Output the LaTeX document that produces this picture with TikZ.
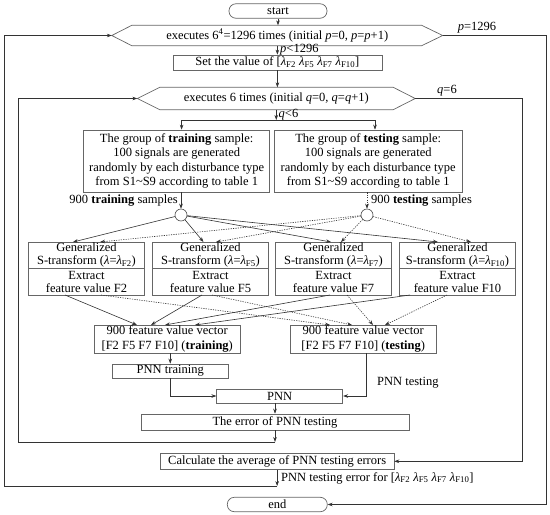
\documentclass[tikz,border=0pt]{standalone}
\usepackage{fontspec}
\setmainfont{Liberation Serif}
\usetikzlibrary{arrows.meta}
\newcommand\lamF[1]{\textit{λ}\textsubscript{#1}}
\begin{document}
\begin{tikzpicture}[x=1pt,y=-1pt,
  font=\fontsize{12.5}{14.5}\selectfont,
  box/.style={draw=black!60, line width=0.7pt, inner sep=0pt, align=center},
  hexline/.style={draw=black!60, line width=0.7pt},
  gst/.style={box, minimum width=116pt, minimum height=26.5pt, font=\fontsize{12.5}{13}\selectfont},
  conn/.style={draw=black!80, line width=0.6pt},
  arr/.style={conn, -{Stealth[length=5pt,width=3.6pt]}},
  dot/.style={dash pattern=on 1.2pt off 1.2pt},
  lab/.style={inner sep=0pt}]
\useasboundingbox (0,0) rectangle (550,515);

% top part
\node[box, rounded corners=7pt, minimum width=98pt, minimum height=14.5pt] (start) at (278,11) {start};
\node[inner sep=0pt, minimum width=330.5pt, minimum height=20pt] (h1) at (277.25,35.5) {executes 6\textsuperscript{4}=1296 times (initial \textit{p}=0, \textit{p}=\textit{p}+1)};
\draw[hexline] (h1.west) -- ([xshift=20pt]h1.north west) -- ([xshift=-21pt]h1.north east) -- (h1.east) -- ([xshift=-21pt]h1.south east) -- ([xshift=20pt]h1.south west) -- cycle;
\draw[arr] (start.south |- start.south) -- (start.south |- h1.north);

\node[box, minimum width=209pt, minimum height=15pt] (set) at (277.4,62.5) {Set the value of [\lamF{F2} \lamF{F5} \lamF{F7} \lamF{F10}]};
\draw[arr] (set.north |- h1.south) -- (set.north);
\node[lab, anchor=west] (pless) at (280,49.5) {\textit{p}<1296};

\node[inner sep=0pt, minimum width=277.5pt, minimum height=22pt] (h2) at (276.25,98.5) {executes 6 times (initial \textit{q}=0, \textit{q}=\textit{q}+1)};
\draw[hexline] (h2.west) -- ([xshift=22.5pt]h2.north west) -- ([xshift=-22pt]h2.north east) -- (h2.east) -- ([xshift=-22pt]h2.south east) -- ([xshift=22.5pt]h2.south west) -- cycle;
\draw[arr] (set.south) -- (set.south |- h2.north);

% split
\coordinate (sp) at (276.25,120);
\coordinate (spl) at (181.6,120);
\coordinate (spr) at (375,120);
\draw[arr] (h2.south) -- (sp);
\node[lab, anchor=west] (qless) at (278.5,114.5) {\textit{q}<6};

\node[box, minimum width=186pt, minimum height=62pt] (trg) at (176.7,161) {The group of \textbf{training} sample:\\100 signals are generated\\randomly by each disturbance type\\from S1\textasciitilde S9 according to table 1};
\node[box, minimum width=187.7pt, minimum height=62pt] (tst) at (368.2,161) {The group of \textbf{testing} sample:\\100 signals are generated\\randomly by each disturbance type\\from S1\textasciitilde S9 according to table 1};
\draw[arr] (spl) -- (spr) -- (spr |- tst.north);
\draw[arr] (spl) -- (spl |- trg.north);

% circles
\node[draw=black!70, circle, minimum size=12pt, inner sep=0pt, line width=0.6pt] (c1) at (181,215) {};
\node[draw=black!70, circle, minimum size=12pt, inner sep=0pt, line width=0.6pt] (c2) at (367,215) {};
\draw[arr] (c1 |- trg.south) -- (c1.north);
\draw[arr, dot] (c2 |- tst.south) -- (c2.north);
\node[lab, anchor=east] (l1) at (178,201) {900 \textbf{training} samples};
\node[lab, anchor=west] (l2) at (371,201) {900 \textbf{testing} samples};

% GST boxes
\node[gst] (g1t) at (86.5,255.25) {Generalized\\S-transform (\textit{λ}=\lamF{F2})};
\node[gst] (g1b) at (86.5,281.75) {Extract\\feature value F2};
\node[gst] (g2t) at (210.5,255.25) {Generalized\\S-transform (\textit{λ}=\lamF{F5})};
\node[gst] (g2b) at (210.5,281.75) {Extract\\feature value F5};
\node[gst] (g3t) at (333.5,255.25) {Generalized\\S-transform (\textit{λ}=\lamF{F7})};
\node[gst] (g3b) at (333.5,281.75) {Extract\\feature value F7};
\node[gst] (g4t) at (457.5,255.25) {Generalized\\S-transform (\textit{λ}=\lamF{F10})};
\node[gst] (g4b) at (457.5,281.75) {Extract\\feature value F10};

% top arrow ends
\coordinate (t1s) at (73,242);  \coordinate (t1d) at (100,242);
\coordinate (t2s) at (203.5,242); \coordinate (t2d) at (216,242);
\coordinate (t3s) at (331,242); \coordinate (t3d) at (341,242);
\coordinate (t4s) at (438,242); \coordinate (t4d) at (471,242);
\draw[arr] (c1) -- (t1s);
\draw[arr] (c1) -- (t2s);
\draw[arr] (c1) -- (t3s);
\draw[arr] (c1) -- (t4s);
\draw[arr, dot] (c2) -- (t1d);
\draw[arr, dot] (c2) -- (t2d);
\draw[arr, dot] (c2) -- (t3d);
\draw[arr, dot] (c2) -- (t4d);

% feature vector boxes
\node[box, minimum width=146.5pt, minimum height=28pt] (fvr) at (167.25,339) {900 feature value vector\\{[}F2 F5 F7 F10] (\textbf{training})};
\node[box, minimum width=146.5pt, minimum height=28pt] (fvs) at (363.25,339) {900 feature value vector\\{[}F2 F5 F7 F10] (\textbf{testing})};

\coordinate (b1s) at (65,295);  \coordinate (b1d) at (101,295);
\coordinate (b2s) at (202,295); \coordinate (b2d) at (212,295);
\coordinate (b3s) at (330,295); \coordinate (b3d) at (347,295);
\coordinate (b4s) at (410,295); \coordinate (b4d) at (447,295);
\coordinate (f1) at (137,325); \coordinate (f2) at (151,325);
\coordinate (f3) at (165,325); \coordinate (f4) at (195,325);
\coordinate (e1) at (330,325); \coordinate (e2) at (352,325);
\coordinate (e3) at (373,325); \coordinate (e4) at (385,325);
\draw[arr] (b1s) -- (f1);
\draw[arr] (b2s) -- (f2);
\draw[arr] (b3s) -- (f3);
\draw[arr] (b4s) -- (f4);
\draw[arr, dot] (b1d) -- (e1);
\draw[arr, dot] (b2d) -- (e2);
\draw[arr, dot] (b3d) -- (e3);
\draw[arr, dot] (b4d) -- (e4);

% PNN
\node[box, minimum width=116.5pt, minimum height=14pt] (pt) at (170.25,371) {PNN training};
\draw[arr] (pt.north |- fvr.south) -- (pt.north);
\node[box, minimum width=126pt, minimum height=14pt] (pnn) at (279.75,396) {PNN};
\draw[arr] (pt.south) |- (pnn.west);
\coordinate (fvsb) at (366.7,353);
\draw[arr] (fvsb) |- (pnn.east);
\node[lab, anchor=west] (plab) at (377,383) {PNN testing};

\node[box, minimum width=268pt, minimum height=16pt] (err) at (275,422) {The error of PNN testing};
\draw[arr] (err.north |- pnn.south) -- (err.north);
\coordinate (j1) at (275,442);
\coordinate (j1l) at (18,442);
\draw[arr] (err.south) -- (j1);
\draw[arr] (j1) -- (j1l) |- (h2.west);

\node[box, minimum width=233.5pt, minimum height=16pt] (calc) at (277.15,461.3) {Calculate the average of PNN testing errors};
\coordinate (qr) at (522,98.5);
\draw[arr] (h2.east) -- (qr) |- (calc.east);
\node[lab] (ql) at (447,91) {\textit{q}=6};

\coordinate (j2) at (277.15,486);
\coordinate (j2l) at (4,486);
\draw[arr] (calc.south) -- (j2);
\draw[arr] (j2) -- (j2l) |- (h1.west);
\node[lab, anchor=west] (el) at (281,478) {PNN testing error for [\lamF{F2} \lamF{F5} \lamF{F7} \lamF{F10}]};

\node[box, rounded corners=7pt, minimum width=100pt, minimum height=14.4pt] (end) at (277.3,504.5) {end};
\coordinate (pr) at (546,35.5);
\draw[arr] (h1.east) -- (pr) |- (end.east);
\node[lab] (pl) at (477,28) {\textit{p}=1296};
\end{tikzpicture}
\end{document}
